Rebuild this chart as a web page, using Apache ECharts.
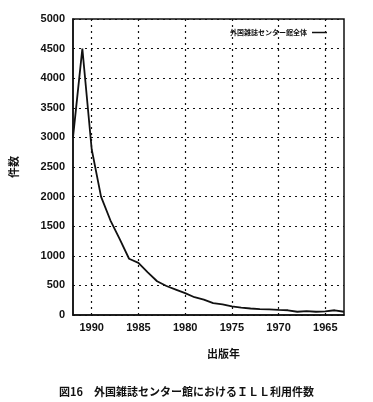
<!DOCTYPE html>
<html>
<head>
<meta charset="utf-8">
<script src="https://cdn.jsdelivr.net/npm/echarts@6/dist/echarts.min.js"></script>
<style>
html,body{margin:0;padding:0;background:#fff;}
#chart{width:373px;height:402px;}
</style>
</head>
<body>
<div id="chart"></div>
<script>
const years = [1992,1991,1990,1989,1988,1987,1986,1985,1984,1983,1982,1981,1980,1979,1978,1977,1976,1975,1974,1973,1972,1971,1970,1969,1968,1967,1966,1965,1964,1963];
const counts = [3000,4500,2800,2000,1600,1280,950,880,720,570,490,430,370,300,260,200,180,145,125,110,100,95,85,80,55,65,55,60,80,55];
const seriesName = '外国雑誌センター館全体';
const yTicks = {min: 0, max: 5000, interval: 500};
const captionText = '図16　外国雑誌センター館におけるＩＬＬ利用件数';
const xName = '出版年';
const yName = '件数';

const chart = echarts.init(document.getElementById('chart'), null, {renderer: 'canvas'});
const labelFont = '"Liberation Sans", Arial, sans-serif';
const cjkFont = '"Noto Sans CJK JP", sans-serif';
const every5 = (idx, val) => Number(val) % 5 === 0;

chart.setOption({
  animation: false,
  backgroundColor: '#fff',
  title: {
    text: captionText,
    left: 'center',
    top: 381,
    textStyle: {fontFamily: cjkFont, fontSize: 11, fontWeight: 'bold', color: '#111'}
  },
  legend: {
    data: [{name: seriesName, icon: 'rect'}],
    right: 41,
    top: 24,
    align: 'right',
    itemWidth: 15,
    itemHeight: 1.5,
    itemGap: 4,
    textStyle: {fontFamily: cjkFont, fontSize: 7, fontWeight: 'bold', color: '#111'}
  },
  grid: {
    left: 70, top: 19, width: 274, bottom: 87,
    show: true, borderColor: '#111', borderWidth: 1.5, backgroundColor: 'transparent'
  },
  xAxis: {
    type: 'category',
    data: years.map(String),
    boundaryGap: false,
    name: xName,
    nameLocation: 'middle',
    nameGap: 33,
    nameTextStyle: {fontFamily: cjkFont, fontSize: 11, fontWeight: 'bold', color: '#111', padding: [0, 0, 0, 30]},
    axisLine: {show: true, lineStyle: {color: '#111', width: 1.5}},
    axisTick: {show: false},
    axisLabel: {interval: every5, fontFamily: labelFont, fontSize: 11, fontWeight: 'bold', color: '#111', margin: 7},
    splitLine: {show: true, interval: every5, lineStyle: {color: '#111', type: [2, 4], width: 1.2}}
  },
  yAxis: {
    type: 'value',
    min: yTicks.min, max: yTicks.max, interval: yTicks.interval,
    name: yName,
    nameLocation: 'middle',
    nameRotate: 90,
    nameGap: 54,
    nameTextStyle: {fontFamily: cjkFont, fontSize: 11, fontWeight: 'bold', color: '#111'},
    axisLine: {show: true, lineStyle: {color: '#111', width: 1.5}},
    axisTick: {show: false},
    axisLabel: {fontFamily: labelFont, fontSize: 11, fontWeight: 'bold', color: '#111', margin: 8, formatter: v => String(v)},
    splitLine: {show: true, lineStyle: {color: '#111', type: [2, 4], width: 1.2}}
  },
  series: [{
    name: seriesName,
    type: 'line',
    data: counts,
    symbol: 'none',
    lineStyle: {color: '#111', width: 1.8},
    itemStyle: {color: '#111'}
  }]
});
</script>
</body>
</html>
